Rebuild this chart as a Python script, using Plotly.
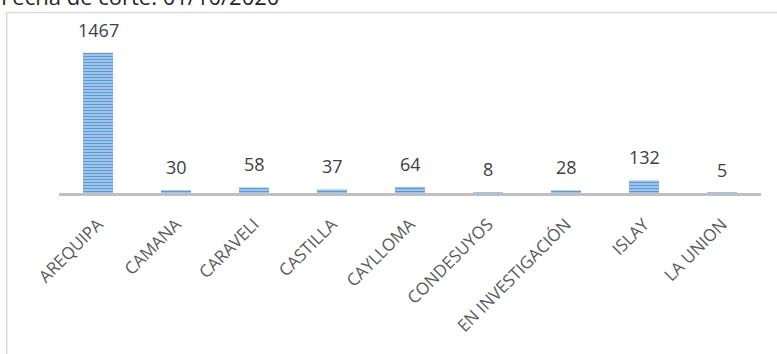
import plotly.graph_objects as go

# Casos por provincia
provincias = ['AREQUIPA', 'CAMANA', 'CARAVELI', 'CASTILLA', 'CAYLLOMA',
              'CONDESUYOS', 'EN INVESTIGACIÓN', 'ISLAY', 'LA UNION']
casos = [1467, 30, 58, 37, 64, 8, 28, 132, 5]
titulo = 'Fecha de corte: 01/10/2020'

FONT = 'Open Sans, Noto Sans, sans-serif'

fig = go.Figure()

fig.add_trace(go.Bar(
    x=provincias,
    y=casos,
    marker=dict(
        color='#A9C8EA',
        line=dict(width=0),
        pattern=dict(shape='-', size=3, solidity=0.5,
                     fgcolor='#5B9BD5', bgcolor='#B7D2EF', fillmode='replace'),
    ),
    showlegend=False,
    hoverinfo='skip',
))

# Etiquetas de datos encima de cada barra
for prov, val in zip(provincias, casos):
    fig.add_annotation(
        x=prov, y=val, text=str(val),
        showarrow=False, yanchor='bottom', yshift=9,
        font=dict(family=FONT, size=18, color='#404040'),
    )

# Título (cortado en la parte superior, como en la imagen)
fig.add_annotation(
    text=titulo, xref='paper', yref='paper',
    x=-0.086, y=1.175, xanchor='left', yanchor='bottom',
    showarrow=False,
    font=dict(family=FONT, size=22, color='#262626'),
)

# Borde del gráfico
fig.add_shape(
    type='rect', xref='paper', yref='paper',
    x0=-0.0745, x1=1.2, y0=-2.0, y1=1.18,
    line=dict(color='#D9D9D9', width=1.5),
    fillcolor='rgba(0,0,0,0)', layer='below',
)

fig.update_layout(
    width=777, height=354,
    margin=dict(l=59, r=16, t=40, b=161),
    paper_bgcolor='white',
    plot_bgcolor='white',
    bargap=0.615,
    font=dict(family=FONT, size=17, color='#595959'),
)

fig.update_xaxes(
    tickangle=-45,
    showline=True, linecolor='#BFBFBF', linewidth=2.5,
    showgrid=False, ticks='', ticklabelstandoff=12,
    tickfont=dict(family=FONT, size=17, color='#595959'),
)
fig.update_yaxes(
    range=[0, 1600],
    visible=False,
    showgrid=False, zeroline=False,
)

fig.write_html('out.html', config={'displayModeBar': False},
               post_script="document.body.style.margin='0';")
